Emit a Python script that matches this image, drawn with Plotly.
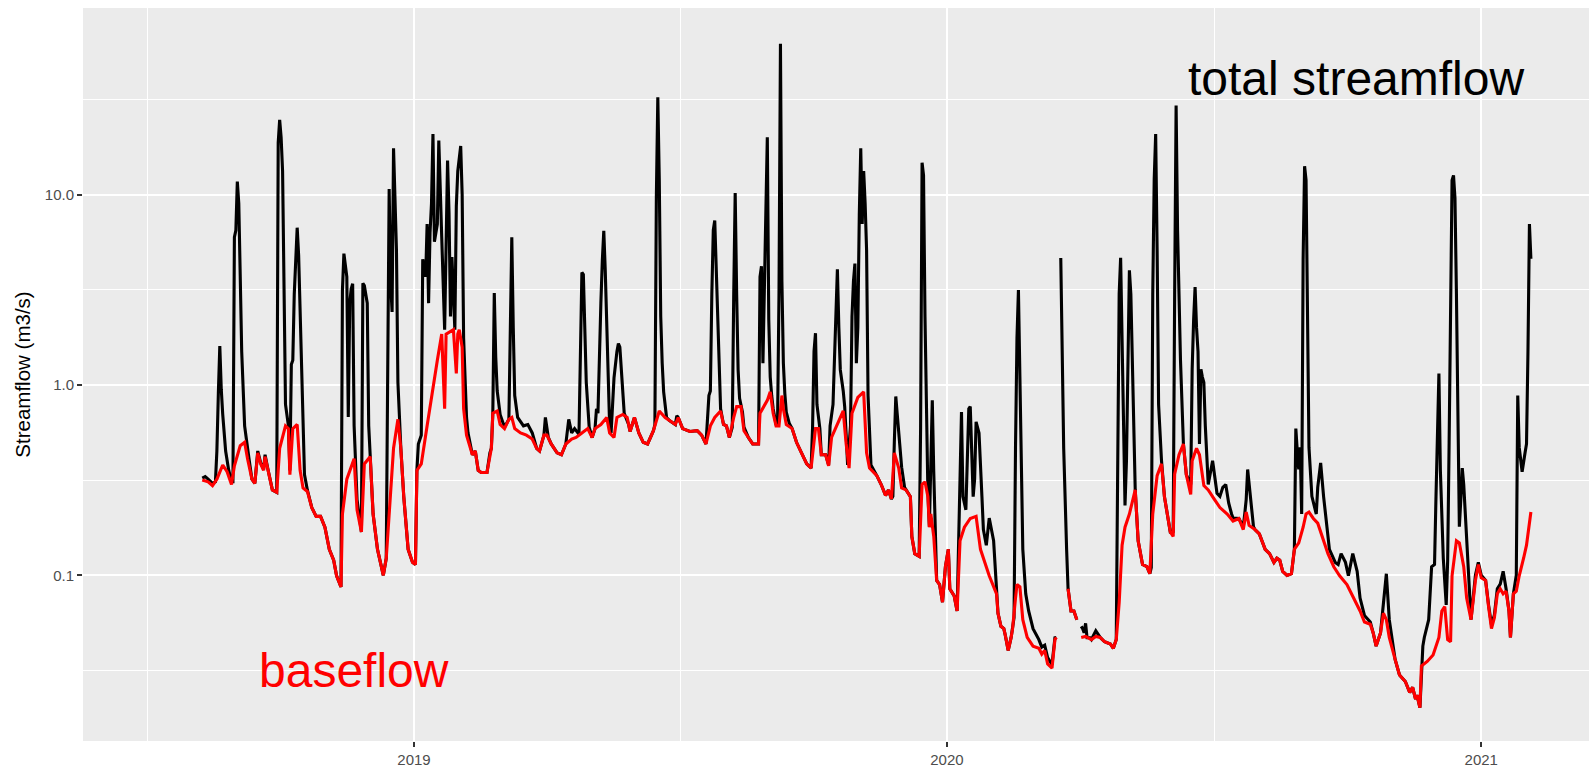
import pandas as pd
import numpy as np
import plotly.graph_objects as go

# ---------------- data (day offsets are days since EPOCH) ----------------
EPOCH = "2019-01-01"

total_points = [
    (-145, 0.324), (-143, 0.33), (-141, 0.32), (-138, 0.304), (-136, 0.31), (-135, 0.45), (-134, 0.9),
    (-133, 1.60), (-132, 0.95), (-131, 0.70), (-129, 0.45), (-127, 0.36), (-125, 0.31), (-124, 0.31),
    (-123, 5.97), (-122, 6.5), (-121, 11.7), (-120, 9.0), (-119, 3.7), (-118, 1.5), (-116, 0.61),
    (-114, 0.45), (-113, 0.41), (-111, 0.32), (-109, 0.304), (-107, 0.45), (-105, 0.39), (-103, 0.36),
    (-102, 0.43), (-100, 0.36), (-97, 0.281), (-94, 0.273), (-93, 18.7), (-92, 24.7), (-91, 20.0),
    (-90, 13.3), (-89, 2.29), (-88, 0.79), (-86, 0.61), (-85, 0.356), (-84, 1.28), (-83, 1.35), (-82, 3.0),
    (-81, 4.5), (-80, 6.7), (-79, 4.8), (-78, 2.42), (-76, 0.61), (-75, 0.338), (-73, 0.28), (-70, 0.227),
    (-67, 0.204), (-64, 0.204), (-61, 0.179), (-58, 0.137), (-55, 0.12), (-53, 0.0995), (-50, 0.087),
    (-49, 3.15), (-48, 4.9), (-47, 4.3), (-46, 3.7), (-45, 0.68), (-44, 2.69), (-43, 3.2), (-42, 3.4),
    (-41, 0.61), (-40, 0.356), (-39, 0.25), (-36, 0.169), (-35, 3.42), (-34, 3.33), (-32, 2.69), (-31, 0.61),
    (-30, 0.45), (-29, 0.30), (-28, 0.21), (-25, 0.137), (-21, 0.10), (-19, 0.123), (-18, 2.0), (-17, 10.7),
    (-16, 3.5), (-15, 2.42), (-14, 17.5), (-13, 10.0), (-12, 5.1), (-11, 1.03), (-10, 0.64), (-9, 0.465),
    (-7, 0.259), (-4, 0.137), (-1, 0.117), (1, 0.114), (2, 0.356), (3, 0.49), (5, 0.545), (6, 4.58),
    (8, 3.7), (9, 7.0), (10, 2.69), (11, 6.3), (12, 9.0), (13, 20.8), (14, 5.66), (16, 7.0), (17, 19.2),
    (18, 12.0), (19, 6.0), (21, 1.95), (22, 6.0), (23, 15.1), (24, 8.0), (25, 2.29), (26, 4.7), (28, 1.95),
    (29, 8.7), (30, 13.3), (32, 18.0), (33, 10.0), (34, 1.76), (36, 0.675), (37, 0.56), (40, 0.43),
    (42, 0.45), (44, 0.356), (46, 0.347), (50, 0.347), (52, 0.44), (53, 0.465), (54, 0.71), (55, 3.04),
    (56, 1.4), (57, 0.93), (59, 0.70), (62, 0.60), (65, 0.66), (66, 2.5), (67, 5.97), (68, 2.0), (69, 0.88),
    (71, 0.675), (75, 0.61), (78, 0.62), (81, 0.56), (84, 0.465), (86, 0.45), (89, 0.545), (90, 0.675),
    (92, 0.53), (94, 0.49), (98, 0.44), (101, 0.43), (104, 0.49), (106, 0.66), (108, 0.56), (110, 0.59),
    (113, 0.55), (114, 2.0), (115, 3.9), (116, 3.8), (117, 1.8), (118, 1.03), (120, 0.6), (122, 0.53),
    (124, 0.59), (125, 0.75), (126, 0.71), (127, 1.5), (128, 2.69), (129, 4.5), (130, 6.46), (131, 4.0),
    (132, 2.29), (133, 1.0), (134, 0.61), (135, 0.56), (137, 1.09), (139, 1.5), (140, 1.65), (141, 1.58),
    (142, 1.2), (144, 0.71), (147, 0.62), (148, 0.57), (151, 0.675), (154, 0.56), (157, 0.50), (160, 0.49),
    (164, 0.575), (165, 0.62), (166, 9.6), (167, 32.4), (168, 12.0), (169, 2.29), (170, 1.3), (171, 0.92),
    (173, 0.675), (175, 0.65), (179, 0.62), (180, 0.69), (181, 0.675), (184, 0.59), (189, 0.57),
    (194, 0.575), (197, 0.545), (200, 0.49), (202, 0.88), (203, 0.93), (204, 3.0), (205, 6.5), (206, 7.3),
    (207, 4.0), (208, 2.29), (209, 1.0), (210, 0.75), (212, 0.62), (214, 0.61), (216, 0.53), (218, 0.6),
    (219, 3.0), (220, 10.2), (221, 3.0), (222, 1.2), (223, 0.85), (225, 0.72), (226, 0.6), (229, 0.53),
    (232, 0.49), (236, 0.49), (237, 3.7), (238, 4.2), (239, 1.3), (240, 3.1), (241, 8.7), (242, 20.0),
    (243, 2.2), (244, 1.1), (245, 0.88), (246, 0.75), (248, 0.62), (249, 0.61), (250, 3.0), (251, 62.0),
    (252, 3.5), (253, 1.3), (254, 0.9), (255, 0.72), (257, 0.63), (259, 0.59), (262, 0.50), (266, 0.43),
    (269, 0.385), (272, 0.366), (273, 0.6), (274, 1.5), (275, 1.87), (276, 0.79), (278, 0.59), (279, 0.43),
    (282, 0.43), (284, 0.38), (285, 0.61), (287, 0.79), (288, 1.5), (289, 2.5), (290, 4.05), (291, 2.0),
    (292, 1.2), (294, 0.93), (295, 0.77), (296, 0.55), (297, 0.38), (299, 0.61), (300, 2.29), (301, 3.5),
    (302, 4.34), (303, 1.3), (304, 2.0), (305, 7.8), (306, 17.5), (307, 7.0), (308, 13.3), (309, 9.0),
    (310, 5.1), (311, 0.88), (312, 0.5), (313, 0.38), (317, 0.334), (320, 0.30), (323, 0.263), (325, 0.281),
    (327, 0.252), (328, 0.26), (329, 0.5), (330, 0.87), (331, 0.7), (332, 0.55), (334, 0.37), (336, 0.29),
    (337, 0.281), (340, 0.259), (341, 0.16), (343, 0.13), (346, 0.126), (347, 0.6), (348, 14.7), (349, 12.6),
    (350, 2.29), (351, 0.61), (352, 0.27), (353, 0.18), (354, 0.5), (355, 0.83), (356, 0.35), (357, 0.16),
    (358, 0.094), (360, 0.0895), (362, 0.0723), (364, 0.111), (366, 0.137), (367, 0.085), (370, 0.078),
    (372, 0.065), (373, 0.16), (375, 0.72), (376, 0.259), (378, 0.221), (380, 0.75), (381, 0.77),
    (383, 0.259), (384, 0.32), (385, 0.64), (387, 0.56), (389, 0.259), (390, 0.174), (392, 0.144),
    (394, 0.2), (397, 0.152), (399, 0.080), (400, 0.0633), (402, 0.054), (404, 0.0525), (405, 0.0485),
    (407, 0.0403), (409, 0.0472), (410, 0.0525), (411, 0.06), (412, 0.47), (413, 1.76), (414, 3.15),
    (415, 1.03), (416, 0.3), (417, 0.137), (419, 0.08), (421, 0.065), (424, 0.0525), (428, 0.046),
    (430, 0.042), (432, 0.043), (434, 0.037), (437, 0.034), (439, 0.047), (440, 0.0472), (441, None),
    (443, 4.65), (444, 1.76), (445, 0.465), (447, 0.137), (448, 0.085), (450, 0.065), (452, 0.065),
    (454, 0.0585), (455, None), (457, 0.054), (458, 0.0525), (459, 0.05), (460, 0.056), (461, 0.047),
    (463, 0.047), (464, 0.046), (467, 0.0511), (470, 0.0472), (473, 0.0448), (477, 0.0436), (479, 0.0414),
    (481, 0.046), (482, 0.5), (483, 3.0), (484, 4.65), (485, 1.9), (486, 0.5), (487, 0.233), (488, 0.4),
    (489, 1.2), (490, 4.0), (491, 3.0), (492, 1.4), (493, 0.5), (494, 0.281), (496, 0.152), (499, 0.114),
    (502, 0.111), (504, 0.102), (505, 0.11), (506, 3.0), (507, 12.0), (508, 20.8), (509, 5.1), (510, 0.79),
    (512, 0.40), (514, 0.259), (518, 0.169), (520, 0.17), (521, 3.0), (522, 29.4), (523, 6.5), (524, 2.5),
    (525, 1.35), (527, 0.49), (529, 0.338), (532, 0.3), (533, 1.21), (534, 2.2), (535, 3.27), (536, 2.0),
    (537, 1.5), (538, 0.49), (539, 1.21), (540, 1.1), (541, 1.03), (542, 0.61), (544, 0.30), (547, 0.40),
    (549, 0.31), (550, 0.27), (552, 0.26), (554, 0.29), (556, 0.30), (558, 0.24), (560, 0.21), (561, 0.2),
    (565, 0.199), (568, 0.18), (569, 0.21), (570, 0.25), (571, 0.36), (572, 0.3), (573, 0.25), (575, 0.18),
    (576, 0.174), (579, 0.165), (583, 0.137), (586, 0.13), (589, 0.117), (591, 0.123), (593, 0.12),
    (595, 0.105), (598, 0.1), (601, 0.102), (603, 0.137), (604, 0.59), (605, 0.45), (606, 0.36), (607, 0.47),
    (608, 0.21), (609, 4.58), (610, 14.1), (611, 11.9), (612, 2.99), (613, 0.47), (615, 0.26), (618, 0.21),
    (619, 0.29), (621, 0.39), (623, 0.26), (625, 0.18), (627, 0.137), (631, 0.117), (633, 0.114),
    (635, 0.13), (638, 0.117), (640, 0.0995), (643, 0.13), (646, 0.105), (648, 0.076), (651, 0.0616),
    (655, 0.0569), (657, 0.0498), (659, 0.0425), (662, 0.0498), (664, 0.0723), (666, 0.102), (668, 0.0585),
    (672, 0.0362), (675, 0.030), (679, 0.0277), (682, 0.0243), (684, 0.0258), (686, 0.0224), (687, 0.0235),
    (689, 0.0202), (690, 0.0334), (691, 0.0425), (692, 0.0472), (695, 0.0585), (697, 0.111), (699, 0.114),
    (700, 0.259), (701, 0.6), (702, 1.15), (703, 0.356), (705, 0.123), (707, 0.07), (708, 0.12), (709, 0.5),
    (710, 3.0), (711, 11.9), (712, 12.6), (713, 9.6), (714, 3.0), (715, 0.61), (716, 0.18), (717, 0.25),
    (718, 0.366), (719, 0.3), (720, 0.21), (722, 0.1), (724, 0.0585), (727, 0.1), (729, 0.117), (731, 0.1),
    (734, 0.094), (736, 0.07), (738, 0.055), (740, 0.062), (742, 0.085), (744, 0.09), (746, 0.105),
    (748, 0.085), (750, 0.065), (751, 0.0472), (753, 0.080), (755, 0.1), (756, 0.88), (757, 0.47),
    (759, 0.35), (761, 0.44), (762, 0.49), (763, 1.5), (764, 7.0), (765, 4.6),
]

base_points = [
    (-145, 0.317), (-141, 0.31), (-138, 0.296), (-135, 0.32), (-131, 0.38), (-128, 0.35), (-125, 0.30),
    (-123, 0.376), (-119, 0.48), (-116, 0.50), (-114, 0.41), (-111, 0.32), (-109, 0.304), (-107, 0.44),
    (-105, 0.385), (-103, 0.356), (-102, 0.42), (-100, 0.356), (-97, 0.281), (-94, 0.273), (-92, 0.465),
    (-88, 0.61), (-86, 0.59), (-85, 0.338), (-83, 0.59), (-80, 0.62), (-78, 0.356), (-76, 0.288),
    (-73, 0.276), (-70, 0.227), (-67, 0.204), (-64, 0.204), (-61, 0.179), (-58, 0.137), (-55, 0.12),
    (-53, 0.0995), (-50, 0.087), (-49, 0.21), (-46, 0.32), (-41, 0.41), (-39, 0.221), (-36, 0.169),
    (-34, 0.385), (-30, 0.42), (-28, 0.21), (-25, 0.137), (-21, 0.10), (-19, 0.123), (-14, 0.465),
    (-11, 0.66), (-9, 0.465), (-7, 0.259), (-4, 0.137), (-1, 0.117), (1, 0.114), (2, 0.356), (3, 0.366),
    (5, 0.385), (9, 0.61), (12, 0.88), (16, 1.35), (19, 1.85), (21, 0.75), (22, 1.85), (27, 1.95),
    (29, 1.15), (30, 1.85), (31, 1.95), (33, 1.58), (34, 0.75), (36, 0.545), (40, 0.43), (42, 0.45),
    (44, 0.356), (46, 0.347), (50, 0.347), (52, 0.44), (53, 0.465), (54, 0.71), (57, 0.73), (59, 0.62),
    (62, 0.59), (65, 0.66), (67, 0.675), (69, 0.59), (73, 0.56), (77, 0.545), (81, 0.52), (84, 0.465),
    (86, 0.45), (89, 0.545), (91, 0.545), (94, 0.49), (98, 0.44), (101, 0.43), (104, 0.49), (108, 0.52),
    (111, 0.53), (115, 0.56), (119, 0.59), (122, 0.53), (124, 0.59), (128, 0.62), (132, 0.675), (134, 0.56),
    (137, 0.53), (139, 0.675), (143, 0.70), (146, 0.675), (148, 0.57), (151, 0.675), (154, 0.56),
    (157, 0.50), (160, 0.49), (164, 0.575), (168, 0.73), (172, 0.675), (175, 0.65), (179, 0.62),
    (181, 0.675), (184, 0.59), (189, 0.57), (194, 0.575), (197, 0.545), (200, 0.49), (203, 0.61),
    (206, 0.675), (210, 0.73), (212, 0.62), (214, 0.61), (216, 0.53), (219, 0.675), (221, 0.77),
    (224, 0.77), (226, 0.575), (229, 0.53), (232, 0.49), (236, 0.49), (237, 0.71), (242, 0.83),
    (244, 0.92), (246, 0.71), (248, 0.61), (250, 0.61), (252, 0.88), (253, 0.75), (255, 0.62), (259, 0.59),
    (262, 0.50), (266, 0.43), (269, 0.385), (272, 0.366), (275, 0.59), (277, 0.59), (279, 0.43),
    (282, 0.43), (284, 0.376), (286, 0.53), (290, 0.62), (294, 0.73), (296, 0.49), (298, 0.366),
    (300, 0.71), (304, 0.86), (308, 0.92), (310, 0.44), (312, 0.366), (317, 0.334), (320, 0.30),
    (323, 0.263), (325, 0.281), (327, 0.252), (329, 0.44), (332, 0.366), (334, 0.288), (337, 0.281),
    (340, 0.259), (341, 0.16), (343, 0.13), (346, 0.126), (348, 0.30), (350, 0.31), (352, 0.259),
    (353, 0.179), (354, 0.21), (356, 0.16), (358, 0.094), (360, 0.0895), (362, 0.0723), (364, 0.111),
    (366, 0.137), (367, 0.085), (370, 0.078), (372, 0.065), (374, 0.152), (377, 0.179), (381, 0.199),
    (385, 0.204), (388, 0.137), (391, 0.117), (394, 0.0995), (399, 0.080), (400, 0.0633), (402, 0.054),
    (404, 0.0525), (405, 0.0485), (407, 0.0403), (409, 0.0472), (410, 0.0525), (412, 0.076), (413, 0.0895),
    (415, 0.087), (417, 0.0585), (420, 0.0472), (424, 0.0425), (428, 0.0414), (430, 0.0386), (432, 0.0403),
    (434, 0.0343), (437, 0.0326), (439, 0.046), (440, 0.0472), (444, None), (448, 0.085), (450, 0.065),
    (452, 0.065), (454, 0.0585), (455, None), (457, 0.0472), (460, 0.0478), (464, 0.046), (467, 0.0478),
    (470, 0.0472), (473, 0.0448), (477, 0.0436), (479, 0.0414), (481, 0.046), (483, 0.072), (485, 0.144),
    (487, 0.179), (490, 0.21), (494, 0.281), (496, 0.152), (499, 0.114), (502, 0.111), (504, 0.102),
    (506, 0.21), (509, 0.334), (512, 0.385), (514, 0.259), (518, 0.169), (520, 0.16), (521, 0.34),
    (524, 0.43), (527, 0.49), (529, 0.338), (532, 0.266), (533, 0.40), (536, 0.465), (538, 0.43),
    (541, 0.296), (544, 0.281), (548, 0.252), (552, 0.227), (557, 0.21), (561, 0.193), (565, 0.199),
    (568, 0.174), (570, 0.215), (572, 0.183), (576, 0.174), (579, 0.165), (583, 0.137), (586, 0.13),
    (589, 0.117), (591, 0.123), (593, 0.12), (595, 0.105), (598, 0.1), (601, 0.102), (603, 0.137),
    (606, 0.148), (609, 0.179), (611, 0.21), (613, 0.215), (616, 0.199), (619, 0.188), (623, 0.152),
    (626, 0.13), (630, 0.111), (634, 0.0995), (639, 0.0895), (643, 0.078), (648, 0.065), (651, 0.0569),
    (655, 0.0554), (657, 0.0498), (659, 0.0425), (662, 0.0498), (664, 0.0633), (666, 0.0585), (668, 0.0472),
    (672, 0.0362), (675, 0.030), (679, 0.0277), (682, 0.0243), (684, 0.0258), (686, 0.0224), (687, 0.0235),
    (689, 0.0202), (690, 0.0334), (694, 0.0353), (698, 0.0382), (702, 0.0472), (704, 0.065), (706, 0.0686),
    (708, 0.046), (710, 0.0448), (711, 0.0995), (714, 0.152), (716, 0.148), (719, 0.111), (721, 0.076),
    (723, 0.0616), (724, 0.0585), (727, 0.094), (729, 0.114), (731, 0.097), (734, 0.094), (736, 0.0686),
    (738, 0.0525), (740, 0.060), (742, 0.080), (744, 0.085), (746, 0.080), (748, 0.0826), (750, 0.065),
    (751, 0.0472), (753, 0.080), (755, 0.0826), (757, 0.0995), (760, 0.123), (762, 0.144), (765, 0.215),
]

x_tick_dates = ["2019-01-01", "2020-01-01", "2021-01-01"]
x_tick_text = ["2019", "2020", "2021"]
x_minor_dates = ["2018-07-02 12:00", "2019-07-02 12:00", "2020-07-02"]
y_tick_vals = [0.1, 1.0, 10.0]
y_tick_text = ["0.1", "1.0", "10.0"]
y_minor_vals = [10 ** -1.5, 10 ** -0.5, 10 ** 0.5, 10 ** 1.5]
x_view_days = (-226.7, 804.8)          # visible date window, days from EPOCH
y_view = (0.01349, 95.5)               # visible flow window (m3/s)

# ---------------- build ----------------
epoch = pd.Timestamp(EPOCH)


def to_dates(days):
    return [epoch + pd.Timedelta(days=float(d)) for d in days]


t_days, t_vals = zip(*total_points)
b_days, b_vals = zip(*base_points)

FONT = "Liberation Sans, Arial, Helvetica, sans-serif"

fig = go.Figure()
fig.add_trace(go.Scatter(x=to_dates(t_days), y=list(t_vals), mode="lines",
                         line=dict(color="#000000", width=3.1), connectgaps=False,
                         name="total streamflow", showlegend=False))
fig.add_trace(go.Scatter(x=to_dates(b_days), y=list(b_vals), mode="lines",
                         line=dict(color="#FF0000", width=3.1), connectgaps=False,
                         name="baseflow", showlegend=False))

x0 = epoch + pd.Timedelta(days=x_view_days[0])
x1 = epoch + pd.Timedelta(days=x_view_days[1])

fig.update_layout(
    width=1589, height=767,
    margin=dict(l=83, r=0, t=8, b=26, pad=0),
    paper_bgcolor="white",
    plot_bgcolor="#EBEBEB",
    font=dict(family=FONT, color="#4D4D4D"),
    showlegend=False,
    xaxis=dict(
        type="date",
        range=[x0.strftime("%Y-%m-%d %H:%M:%S"), x1.strftime("%Y-%m-%d %H:%M:%S")],
        tickmode="array", tickvals=x_tick_dates, ticktext=x_tick_text,
        showgrid=True, gridcolor="white", gridwidth=1.8,
        minor=dict(tickmode="array", tickvals=x_minor_dates, showgrid=True,
                   gridcolor="white", gridwidth=0.9, ticks=""),
        ticks="outside", ticklen=5, tickwidth=2, tickcolor="#333333",
        tickfont=dict(size=15, color="#4D4D4D", family=FONT),
        showline=False, zeroline=False, automargin=False,
    ),
    yaxis=dict(
        type="log",
        range=[np.log10(y_view[0]), np.log10(y_view[1])],
        tickmode="array", tickvals=y_tick_vals, ticktext=y_tick_text,
        showgrid=True, gridcolor="white", gridwidth=1.8,
        minor=dict(tickmode="array", tickvals=y_minor_vals, showgrid=True,
                   gridcolor="white", gridwidth=0.9, ticks=""),
        ticks="outside", ticklen=5, tickwidth=2, tickcolor="#333333",
        tickfont=dict(size=15, color="#4D4D4D", family=FONT),
        title=dict(text="Streamflow (m3/s)", font=dict(size=20.5, color="#000000", family=FONT),
                   standoff=8),
        showline=False, zeroline=False, automargin=False,
    ),
    annotations=[
        dict(text="total streamflow", xref="paper", yref="paper", x=0.8453, y=0.9045,
             xanchor="center", yanchor="middle", showarrow=False,
             font=dict(size=48, color="#000000", family=FONT)),
        dict(text="baseflow", xref="paper", yref="paper", x=0.18, y=0.0955,
             xanchor="center", yanchor="middle", showarrow=False,
             font=dict(size=48, color="#FF0000", family=FONT)),
    ],
)

fig.write_html(
    "out.html",
    config={"displayModeBar": False},
    post_script="document.body.style.margin='0px';document.body.style.overflow='hidden';",
)
